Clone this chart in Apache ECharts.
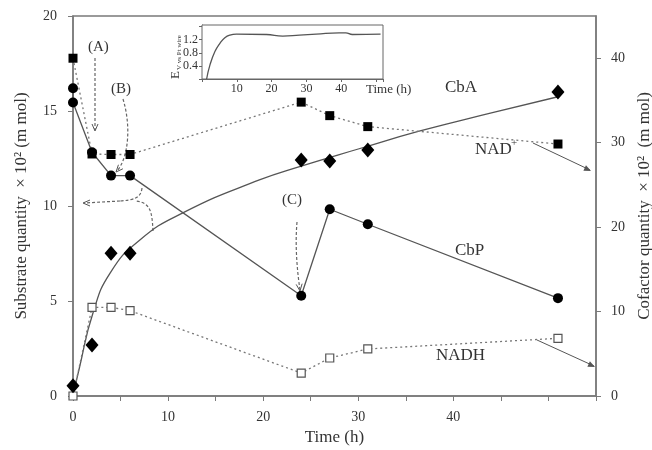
<html>
<head>
<meta charset="UTF-8">
<title>Substrate and cofactor</title>
<style type="text/css">
  body{ margin:0; background:#fff; }
  #main{ width:652px; height:450px; }
</style>
</head>
<body>
<div id="main"></div>
<script src="https://cdn.jsdelivr.net/npm/echarts@6/dist/echarts.min.js"></script>
<script type="text/javascript">
// sampling times (h)
var tCbP = [0, 0, 2, 4, 6, 24, 27, 31, 51];
var cbp = [16.2, 15.45, 12.83, 11.6, 11.6, 5.28, 9.83, 9.04, 5.15];
var tMain = [0, 2, 4, 6, 24, 27, 31, 51];
var cba = [0.54, 2.68, 7.51, 7.51, 12.42, 12.37, 12.95, 16.0];
var nadPlus = [40.0, 28.66, 28.6, 28.6, 34.8, 33.2, 31.9, 29.84];
var nadh = [0, 10.5, 10.5, 10.1, 2.72, 4.5, 5.57, 6.83];
// fitted CbA curve
var tFit = [0, 0.7, 2.1, 3.9, 7, 11.6, 19.6, 24, 30, 36.5, 44, 51];
var cbaFit = [0, 1.54, 4.37, 6.47, 8.2, 9.65, 11.37, 12.1, 13.0, 13.95, 14.9, 15.75];
// inset: electrode potential
var tInset = [1.33, 2.29, 3.71, 5.14, 6.57, 8, 9.9, 18.5, 23.2, 28, 32.8, 39.4, 41.3, 43.2, 51.3];
var eInset = [0, 0.43, 0.84, 1.09, 1.26, 1.34, 1.37, 1.36, 1.31, 1.34, 1.37, 1.41, 1.41, 1.36, 1.37];
var xTicks = [0, 10, 20, 30, 40];

function pairs(xs, ys){ return xs.map(function(x, i){ return [x, ys[i]]; }); }

var axisGray = '#7a7a7a';
var txt = '#333';
var serif = 'Liberation Serif';

function head(x, y, ang, filled){
  var c = Math.cos(ang), s = Math.sin(ang), L = 7, W = 3;
  var p1 = [x - L*c + W*s, y - L*s - W*c];
  var p2 = [x - L*c - W*s, y - L*s + W*c];
  if (filled) return { type:'polygon', shape:{ points:[p1,[x,y],p2] }, style:{ fill:'#555' }, z:10 };
  return { type:'polyline', shape:{ points:[p1,[x,y],p2] }, style:{ stroke:'#555', lineWidth:1, fill:null }, z:10 };
}
var dashStyle = { stroke:'#666', lineWidth:1.2, lineDash:[3,2], fill:null };

var option = {
  animation: false,
  grid: [
    { left:73, right:56, top:16, bottom:54, show:true, borderColor:axisGray, borderWidth:1.5,
      containLabel:false, outerBoundsMode:'none' },
    { left:202, top:25, width:181, height:54, show:true, borderColor:'#666', borderWidth:1,
      backgroundColor:'#fff', z:5, containLabel:false, outerBoundsMode:'none' }
  ],
  xAxis: [{
    type:'value', min:0, max:55, interval:5, gridIndex:0,
    name:'Time (h)', nameLocation:'middle', nameGap:33,
    nameTextStyle:{ fontFamily:serif, fontSize:17, color:txt },
    axisLine:{ onZero:false, lineStyle:{ color:axisGray, width:1.5 } },
    axisTick:{ inside:false, length:5, lineStyle:{ color:axisGray } },
    axisLabel:{ fontFamily:serif, fontSize:14, color:txt, margin:14,
      formatter:function(v){ return xTicks.indexOf(v) >= 0 ? v : ''; } },
    splitLine:{ show:false }
  }, {
    type:'value', min:0, max:52, interval:10, gridIndex:1,
    axisLine:{ onZero:false, lineStyle:{ color:'#666', width:1 } },
    axisTick:{ length:3, lineStyle:{ color:'#666' } },
    axisLabel:{ fontFamily:serif, fontSize:12, color:txt, margin:4,
      formatter:function(v){ return (v > 0 && v < 50) ? v : ''; } },
    splitLine:{ show:false }
  }],
  yAxis: [{
    type:'value', min:0, max:20, interval:5, gridIndex:0,
    name:'Substrate quantity  \u00d7 10\u00b2 (m mol)', nameLocation:'middle', nameGap:43,
    nameTextStyle:{ fontFamily:serif, fontSize:17, color:txt },
    axisLine:{ onZero:false, lineStyle:{ color:axisGray, width:1.5 } },
    axisTick:{ length:5, lineStyle:{ color:axisGray } },
    axisLabel:{ fontFamily:serif, fontSize:14, color:txt, margin:16 },
    splitLine:{ show:false }
  }, {
    type:'value', min:0, max:45, interval:10, gridIndex:0, position:'right',
    name:'Cofactor quantity  \u00d7 10\u00b2  (m mol)', nameLocation:'middle', nameGap:36,
    nameRotate:90,
    nameTextStyle:{ fontFamily:serif, fontSize:17, color:txt },
    axisLine:{ show:true, onZero:false, lineStyle:{ color:axisGray, width:1.5 } },
    axisTick:{ length:5, lineStyle:{ color:axisGray } },
    axisLabel:{ fontFamily:serif, fontSize:14, color:txt, margin:15, showMaxLabel:false },
    splitLine:{ show:false }
  }, {
    type:'value', min:0, max:1.65, interval:0.4, gridIndex:1,
    axisLine:{ onZero:false, lineStyle:{ color:'#666', width:1 } },
    axisTick:{ length:3, lineStyle:{ color:'#666' } },
    axisLabel:{ fontFamily:serif, fontSize:12, color:txt, margin:4, showMaxLabel:false,
      formatter:function(v){ return (v > 0.1 && v < 1.5) ? v.toFixed(1) : ''; } },
    splitLine:{ show:false }
  }],
  series: [{
    name:'CbA fit', type:'line', xAxisIndex:0, yAxisIndex:0, smooth:true, showSymbol:false,
    data: pairs(tFit, cbaFit), lineStyle:{ color:'#555', width:1.3 }, z:2
  }, {
    name:'CbP', type:'line', xAxisIndex:0, yAxisIndex:0, symbol:'circle', symbolSize:10,
    data: pairs(tCbP, cbp), lineStyle:{ color:'#555', width:1.3 }, itemStyle:{ color:'#000' }, z:3
  }, {
    name:'CbA', type:'scatter', xAxisIndex:0, yAxisIndex:0, symbol:'diamond', symbolSize:[13,15],
    data: pairs(tMain, cba), itemStyle:{ color:'#000', opacity:1 }, z:4
  }, {
    name:'NAD+', type:'line', xAxisIndex:0, yAxisIndex:1, symbol:'rect', symbolSize:9,
    data: pairs(tMain, nadPlus), lineStyle:{ color:'#777', width:1.3, type:[2,3] }, itemStyle:{ color:'#000' }, z:3
  }, {
    name:'NADH', type:'line', xAxisIndex:0, yAxisIndex:1, symbol:'rect', symbolSize:8,
    data: pairs(tMain, nadh), lineStyle:{ color:'#777', width:1.3, type:[2,3] },
    itemStyle:{ color:'#fff', borderColor:'#555', borderWidth:1.2 }, z:3
  }, {
    name:'E', type:'line', xAxisIndex:1, yAxisIndex:2, showSymbol:false, smooth:true,
    data: pairs(tInset, eInset), lineStyle:{ color:'#555', width:1.3 }, z:6
  }],
  graphic: [
    // labels
    { type:'text', left:88, top:40, style:{ text:'(A)', font:'15px "Liberation Serif"', fill:txt } },
    { type:'text', left:111, top:82, style:{ text:'(B)', font:'15px "Liberation Serif"', fill:txt } },
    { type:'text', left:282, top:193, style:{ text:'(C)', font:'15px "Liberation Serif"', fill:txt } },
    { type:'text', left:445, top:79, style:{ text:'CbA', font:'17px "Liberation Serif"', fill:txt } },
    { type:'text', left:455, top:242, style:{ text:'CbP', font:'17px "Liberation Serif"', fill:txt } },
    { type:'text', left:475, top:141, style:{ text:'NAD', font:'17px "Liberation Serif"', fill:txt } },
    { type:'text', left:511, top:138, style:{ text:'+', font:'11px "Liberation Serif"', fill:txt } },
    { type:'text', left:436, top:347, style:{ text:'NADH', font:'17px "Liberation Serif"', fill:txt } },
    // inset axis titles
    { type:'text', x:366, y:83, style:{ text:'Time (h)', font:'13px "Liberation Serif"', fill:txt } },
    { type:'text', x:169, y:79, rotation:Math.PI/2, style:{ text:'E', font:'13px "Liberation Serif"', fill:txt } },
    { type:'text', x:176, y:70, rotation:Math.PI/2, style:{ text:'V vs Pt wire', font:'7px "Liberation Serif"', fill:txt } },
    // (A) arrow
    { type:'line', shape:{ x1:95, y1:58, x2:95, y2:130 }, style:dashStyle },
    head(95, 131, Math.PI/2, false),
    // (B) arrow
    { type:'bezierCurve', shape:{ x1:123, y1:99, cpx1:131, cpy1:125, cpx2:129, cpy2:157, x2:117, y2:171 }, style:dashStyle },
    head(116, 172, 2.3, false),
    // (C) arrow
    { type:'bezierCurve', shape:{ x1:297, y1:222, cpx1:295, cpy1:245, cpx2:297, cpy2:270, x2:300, y2:290 }, style:dashStyle },
    head(300, 291, 1.45, false),
    // brace arrow to left axis
    { type:'bezierCurve', shape:{ x1:142, y1:188, cpx1:141, cpy1:198, cpx2:134, cpy2:200, x2:120, y2:201 }, style:dashStyle },
    { type:'line', shape:{ x1:120, y1:201, x2:84, y2:203 }, style:dashStyle },
    head(83, 203, Math.PI, false),
    { type:'bezierCurve', shape:{ x1:153, y1:231, cpx1:152, cpy1:210, cpx2:150, cpy2:203, x2:136, y2:201 }, style:dashStyle },
    // NAD+ and NADH arrows to right axis
    { type:'line', shape:{ x1:533, y1:143, x2:590, y2:170 }, style:{ stroke:'#555', lineWidth:1 } },
    head(591, 171, Math.atan2(27, 57), true),
    { type:'line', shape:{ x1:537, y1:340, x2:594, y2:366 }, style:{ stroke:'#555', lineWidth:1 } },
    head(595, 367, Math.atan2(26, 57), true)
  ]
};

var myChart = echarts.init(document.getElementById('main'));
myChart.setOption(option);
</script>
</body>
</html>
